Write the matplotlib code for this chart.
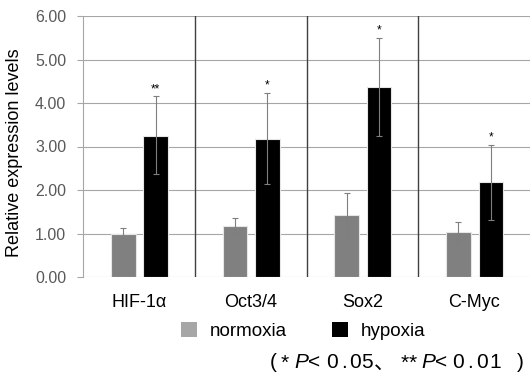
import matplotlib
matplotlib.use("Agg")
import matplotlib.pyplot as plt
from matplotlib.patches import Patch

plt.rcParams["font.family"] = ["Liberation Sans", "DejaVu Sans", "Noto Sans CJK JP"]

categories = ["HIF-1α", "Oct3/4", "Sox2", "C-Myc"]
normoxia = [1.00, 1.18, 1.42, 1.03]
normoxia_err_low = [0.10, 0.18, 0.51, 0.24]
normoxia_err_high = [0.12, 0.17, 0.52, 0.23]
hypoxia = [3.25, 3.17, 4.37, 2.18]
hypoxia_err_low = [0.88, 1.04, 1.14, 0.86]
hypoxia_err_high = [0.90, 1.06, 1.13, 0.86]
stars = ["**", "*", "*", "*"]
yticks = [0, 1, 2, 3, 4, 5, 6]
series_names = ["normoxia", "hypoxia"]
footnote_chars = ["(", "*", "P", "<", "0", ".", "0", "5", "、",
                  "*", "*", "P", "<", "0", ".", "0", "1", ")"]

W, H = 530, 380
fig = plt.figure(figsize=(W / 100, H / 100), dpi=100)
ax = fig.add_axes([83 / W, 1 - 277 / H, 1 - 83 / W, (277 - 16) / H])

x = list(range(len(categories)))
xn = [i - 0.14 for i in x]
xh = [i + 0.15 for i in x]
bw = 0.22

ax.bar(xn, normoxia, width=bw, color="#808080", edgecolor="#e6e6e6", linewidth=0.8, zorder=3)
ax.bar(xh, hypoxia, width=bw, color="#000000", edgecolor="#e6e6e6", linewidth=0.8, zorder=3)
ax.errorbar(xn, normoxia, yerr=[normoxia_err_low, normoxia_err_high], fmt="none",
            ecolor="#7f7f7f", elinewidth=0.8, capsize=2, capthick=0.8, zorder=4)
ax.errorbar(xh, hypoxia, yerr=[hypoxia_err_low, hypoxia_err_high], fmt="none",
            ecolor="#7f7f7f", elinewidth=0.8, capsize=2, capthick=0.8, zorder=4)
for xi, v, e, s in zip(xh, hypoxia, hypoxia_err_high, stars):
    ax.text(xi, v + e + 0.03, s, ha="center", va="bottom", fontsize=8.5, color="black", zorder=5)

ax.set_xlim(-0.5, len(categories) - 0.5)
ax.set_ylim(0, 6)
ax.set_yticks(yticks)
ax.set_yticklabels([f"{t:.2f}" for t in yticks], fontsize=11.5, color="#595959")
ax.yaxis.grid(True, color="#a6a6a6", linewidth=0.8, zorder=0)
ax.set_axisbelow(True)
for sp in ["top", "right", "bottom"]:
    ax.spines[sp].set_visible(False)
ax.spines["left"].set_color("#a6a6a6")
ax.spines["left"].set_linewidth(0.8)
ax.tick_params(axis="y", length=4, color="#a6a6a6", pad=8)
ax.set_xticks(x)
ax.set_xticklabels(categories, fontsize=13, color="black")
ax.tick_params(axis="x", length=0, pad=12)
for sep in [0.5, 1.5, 2.5]:
    ax.axvline(sep, ymin=0, ymax=1, color="#404040", linewidth=1.0, zorder=2)
ax.set_ylabel("Relative expression levels", fontsize=13, color="black")
ax.yaxis.set_label_coords(-0.134, 0.477)

handles = [Patch(facecolor="#a6a6a6", edgecolor="none", label=series_names[0]),
           Patch(facecolor="#000000", edgecolor="none", label=series_names[1])]
fig.legend(handles=handles, loc="center", bbox_to_anchor=(303 / W, 1 - 331 / H), ncol=2,
           frameon=False, fontsize=13.5, handlelength=0.85, handleheight=0.85,
           columnspacing=2.4, handletextpad=0.7)

# footnote, character positions (pixels)
char_x = [270, 281, 294, 308, 326, 341, 349, 361, 374,
          401, 409, 421, 435, 452, 467, 476, 489, 517]
yfoot = 1 - 363 / H
for ch, px in zip(footnote_chars, char_x):
    st = "italic" if ch == "P" else "normal"
    fig.text(px / W, yfoot, ch, fontsize=15, style=st,
             family=["Liberation Sans", "Noto Sans CJK JP"], ha="left", va="center")

fig.savefig("out.png", dpi=100)
